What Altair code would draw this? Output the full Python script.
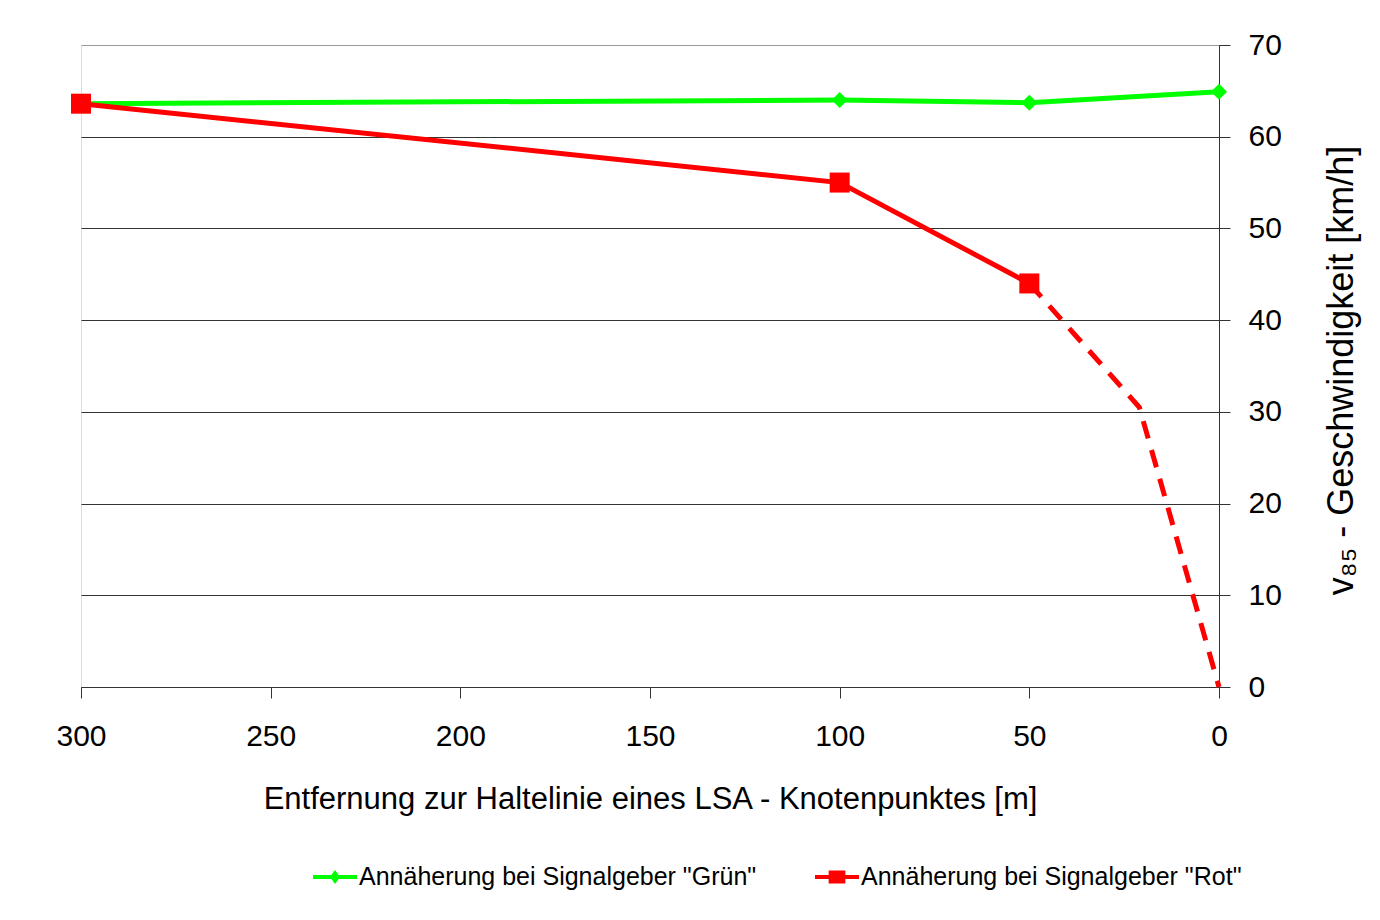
import altair as alt
import pandas as pd

# ---- data ----
dist_gruen = [300, 100, 50, 0]
v_gruen = [63.6, 64.0, 63.7, 64.9]

dist_rot = [300, 100, 50]
v_rot = [63.6, 55.0, 44.0]

dist_rot_dashed = [50, 21, 0]
v_rot_dashed = [44.0, 30.5, 0.0]

series = ['Annäherung bei Signalgeber "Grün"', 'Annäherung bei Signalgeber "Rot"']
colors = ["#00ff00", "#ff0000"]

x_ticks = [0, 50, 100, 150, 200, 250, 300]
y_ticks = [0, 10, 20, 30, 40, 50, 60, 70]

x_title = "Entfernung zur Haltelinie eines LSA - Knotenpunktes [m]"
y_title = "v₈₅ - Geschwindigkeit [km/h]"

# legend symbols: a line with a marker (unit box -1..1)
sym_gruen = "M-1,-0.09H1V0.09H-1Z M0,-0.32L0.23,0L0,0.32L-0.23,0Z"
sym_rot = "M-1,-0.09H1V0.09H-1Z M-0.38,-0.3H0.38V0.3H-0.38Z"

df_g = pd.DataFrame({"d": dist_gruen, "v": v_gruen})
df_r = pd.DataFrame({"d": dist_rot, "v": v_rot})
df_rd = pd.DataFrame({"d": dist_rot_dashed, "v": v_rot_dashed})
df_leg = pd.DataFrame({"d": [150, 150], "v": [-60, -60], "s": series})

FONT = "Liberation Sans"

x_enc = alt.X(
    "d:Q",
    scale=alt.Scale(domain=[0, 300], reverse=True, nice=False, zero=False),
    axis=alt.Axis(
        values=x_ticks,
        grid=False,
        domainColor="#333333",
        tickColor="#333333",
        tickSize=11,
        labelFont=FONT,
        labelFontSize=30,
        labelColor="#000000",
        labelBaseline="alphabetic",
        labelPadding=47,
        labelFlush=False,
        labelOverlap=False,
        title=x_title,
        titleFont=FONT,
        titleFontSize=31,
        titleFontWeight="normal",
        titleColor="#000000",
        titleBaseline="alphabetic",
        titleY=121,
    ),
)

y_enc = alt.Y(
    "v:Q",
    scale=alt.Scale(domain=[0, 70], nice=False, zero=True),
    axis=alt.Axis(
        orient="right",
        values=y_ticks,
        grid=True,
        gridColor=alt.condition("datum.value == 70", alt.value("#999999"), alt.value("#333333")),
        gridWidth=1,
        domainColor="#333333",
        tickColor="#333333",
        tickSize=11,
        labelFont=FONT,
        labelFontSize=30,
        labelColor="#000000",
        labelPadding=18,
        labelFlush=False,
        labelOverlap=False,
        title=y_title,
        titleFont=FONT,
        titleFontSize=36,
        titleFontWeight="normal",
        titleColor="#000000",
        titleAngle=270,
        titleAlign="center",
        titleBaseline="alphabetic",
        titleX=133,
        titleY=325,
    ),
)

line_g = alt.Chart(df_g).mark_line(color="#00ff00", strokeWidth=5).encode(x=x_enc, y=y_enc)
line_r = alt.Chart(df_r).mark_line(color="#ff0000", strokeWidth=5).encode(x=x_enc, y=y_enc)
line_rd = alt.Chart(df_rd).mark_line(
    color="#ff0000", strokeWidth=5, strokeDash=[18, 12]
).encode(x=x_enc, y=y_enc)

pts_g = alt.Chart(df_g).mark_point(
    shape="diamond", filled=True, size=256, color="#00ff00", opacity=1
).encode(x=x_enc, y=y_enc)
pts_r = alt.Chart(df_r).mark_square(size=400, color="#ff0000", opacity=1).encode(x=x_enc, y=y_enc)

leg = alt.Legend(
    orient="none",
    legendX=232,
    legendY=810,
    direction="horizontal",
    title=None,
    labelFont=FONT,
    labelFontSize=25,
    labelColor="#000000",
    labelOffset=2,
    symbolSize=1936,
    symbolStrokeWidth=0,
    symbolOpacity=1,
    columnPadding=58,
    labelLimit=0,
)

legend_layer = alt.Chart(df_leg).mark_point(
    filled=True, size=1936, opacity=1, clip=True, strokeWidth=0
).encode(
    x=x_enc,
    y=y_enc,
    color=alt.Color("s:N", scale=alt.Scale(domain=series, range=colors), legend=leg),
    shape=alt.Shape("s:N", scale=alt.Scale(domain=series, range=[sym_gruen, sym_rot]), legend=leg),
)

chart = alt.layer(line_g, line_r, line_rd, pts_g, pts_r, legend_layer).properties(
    width=1138,
    height=642,
    autosize=alt.AutoSizeParams(type="none"),
    padding={"left": 73, "top": 37, "right": 153, "bottom": 225},
).configure_view(
    stroke="#999999", strokeWidth=1
).configure(
    font=FONT, background="#ffffff"
)

chart.save("out.html", embed_options={"renderer": "svg", "actions": False})
